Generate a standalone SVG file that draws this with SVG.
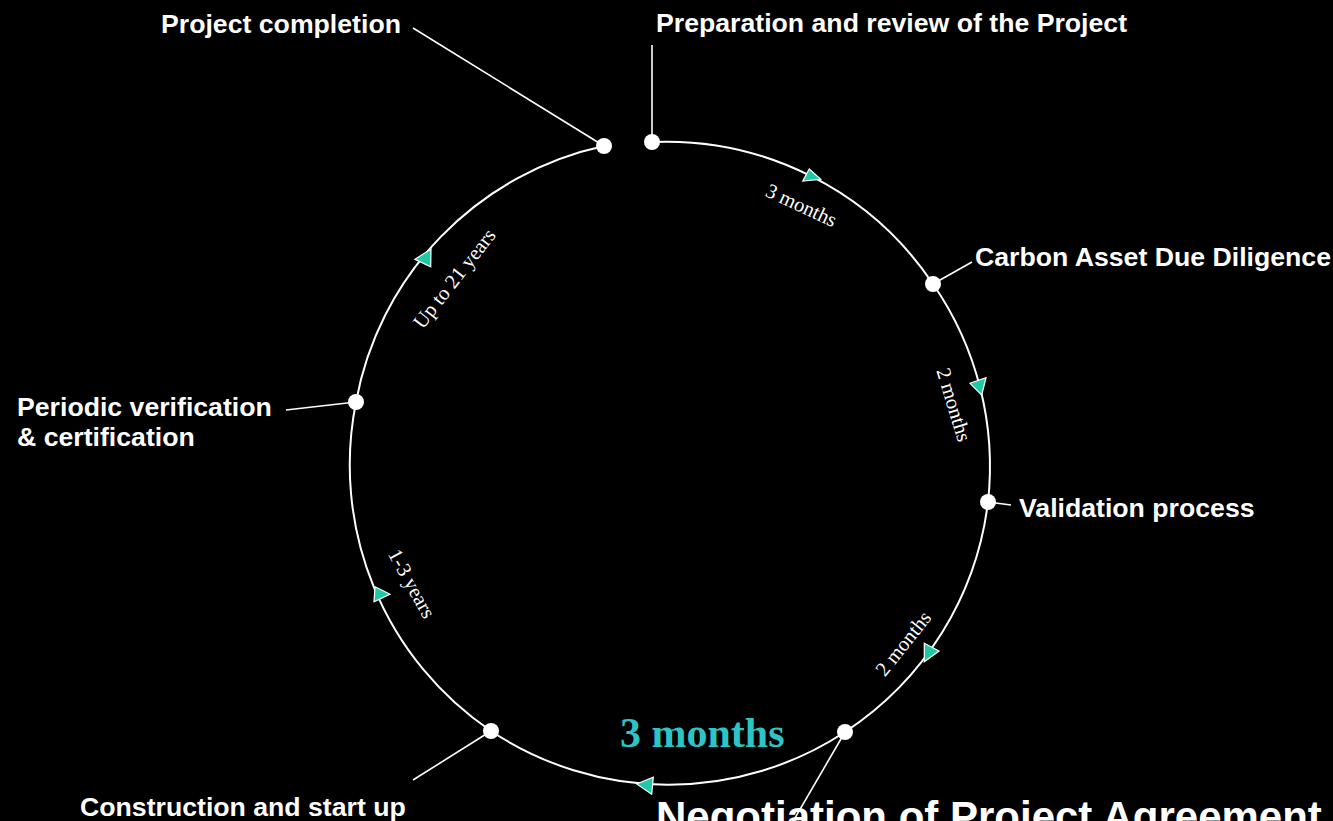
<svg xmlns="http://www.w3.org/2000/svg" width="1333" height="821" viewBox="0 0 1333 821">
<style>
.lbl{font-family:"Liberation Sans",Arial,sans-serif;font-weight:bold;font-size:26.67px;fill:#fff}
.big{font-family:"Liberation Sans",Arial,sans-serif;font-weight:bold;font-size:42px;fill:#fff}
.dur{font-family:"Liberation Serif","Times New Roman",serif;font-size:20.5px;fill:#fff}
.arc{fill:none;stroke:#fff;stroke-width:2}
.lead{stroke:#fff;stroke-width:1.6;fill:none}
.dot{fill:#fff}
.arr{fill:#1ec9a5;stroke:#fff;stroke-width:1.2;stroke-linejoin:miter}
</style>
<rect width="1333" height="821" fill="#000"/>
<g id="connectors">
<path class="arc" d="M652,142 A321,321 0 0 1 933,284"/>
<path class="arc" d="M933,284 A321,321 0 0 1 988,502"/>
<path class="arc" d="M988,502 A321,321 0 0 1 845,732"/>
<path class="arc" d="M845,732 A321,321 0 0 1 491,731"/>
<path class="arc" d="M491,731 A321,321 0 0 1 356,402"/>
<path class="arc" d="M356,402 A321,321 0 0 1 604,146"/>
<polygon class="arr" points="802.7,181 809.3,169 820.7,179.3"/>
<polygon class="arr" points="970,383.3 986,377.7 981.7,395"/>
<polygon class="arr" points="924.3,643.3 939,651 924.3,661.7"/>
<polygon class="arr" points="636.7,784 653.3,777.3 651.7,794.3"/>
<polygon class="arr" points="375,586.7 390,594.3 374,601.7"/>
<polygon class="arr" points="415,259.3 431,249 430.7,266.7"/>
<text class="dur" text-anchor="middle" transform="translate(801,206) rotate(25)" y="6">3 months</text>
<text class="dur" text-anchor="middle" transform="translate(953,405) rotate(73)" y="6">2 months</text>
<text class="dur" text-anchor="middle" transform="translate(904,644) rotate(-51.5)" y="6">2 months</text>
<text class="dur" text-anchor="middle" transform="translate(411,584) rotate(61)" y="6">1-3 years</text>
<text class="dur" text-anchor="middle" transform="translate(455,279) rotate(-52)" y="6">Up to 21 years</text>
<text x="620" y="747" font-family="Liberation Serif,'Times New Roman',serif" font-weight="bold" font-size="42" fill="#2ec4c6">3 months</text>
</g>
<g id="node-preparation">
<line class="lead" x1="652" y1="45" x2="652" y2="142"/>
<circle class="dot" cx="652" cy="142" r="8"/>
<text class="lbl" x="656" y="32">Preparation and review of the Project</text>
</g>
<g id="node-carbon">
<line class="lead" x1="933" y1="284" x2="972" y2="262"/>
<circle class="dot" cx="933" cy="284" r="8"/>
<text class="lbl" x="975" y="266">Carbon Asset Due Diligence</text>
</g>
<g id="node-validation">
<line class="lead" x1="988" y1="502" x2="1011" y2="505"/>
<circle class="dot" cx="988" cy="502" r="8"/>
<text class="lbl" x="1019" y="517">Validation process</text>
</g>
<g id="node-negotiation">
<line class="lead" x1="845" y1="732" x2="788" y2="830"/>
<circle class="dot" cx="845" cy="732" r="8"/>
<text class="big" x="656" y="831">Negotiation of Project Agreement</text>
</g>
<g id="node-construction">
<line class="lead" x1="491" y1="731" x2="413" y2="780"/>
<circle class="dot" cx="491" cy="731" r="8"/>
<text class="lbl" x="80" y="816">Construction and start up</text>
</g>
<g id="node-periodic">
<line class="lead" x1="286" y1="410" x2="356" y2="402"/>
<circle class="dot" cx="356" cy="402" r="8"/>
<text class="lbl" x="17" y="416">Periodic verification</text>
<text class="lbl" x="17" y="446">&amp; certification</text>
</g>
<g id="node-completion">
<line class="lead" x1="413" y1="28" x2="604" y2="146"/>
<circle class="dot" cx="604" cy="146" r="8"/>
<text class="lbl" x="161" y="33">Project completion</text>
</g>
</svg>
